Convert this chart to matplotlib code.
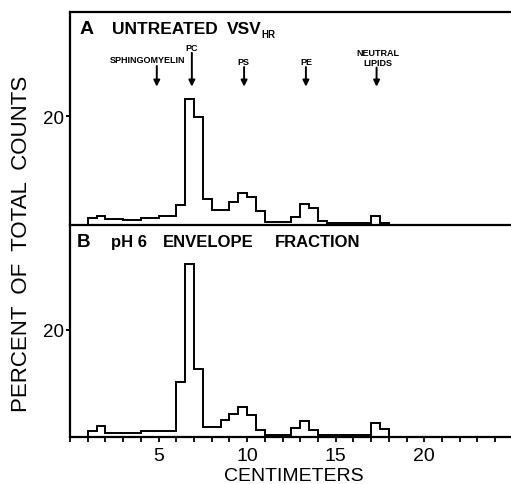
import matplotlib
matplotlib.use("Agg")
import matplotlib.pyplot as plt
from matplotlib.ticker import MultipleLocator, FixedLocator

plt.rcParams['font.family'] = ['Liberation Sans', 'DejaVu Sans']

# ---- data (percent of total counts per gel slice, x in centimeters) ----
edges_a = [1.0, 1.5, 2.0, 3.0, 4.0, 5.0, 6.0, 6.5, 7.0, 7.5, 8.0, 9.0, 9.5, 10.0,
           10.5, 11.0, 12.5, 13.0, 13.5, 14.0, 14.5, 17.0, 17.5, 18.0]
values_a = [1.2, 1.7, 1.1, 0.85, 1.2, 1.7, 3.7, 23.1, 19.8, 4.8, 2.8, 4.3, 5.8,
            5.1, 2.5, 0.6, 1.5, 3.85, 3.1, 0.7, 0.4, 1.7, 0.4]

edges_b = [1.0, 1.5, 2.0, 4.0, 6.0, 6.5, 7.0, 7.5, 8.5, 9.0, 9.5, 10.0, 10.5,
           11.0, 12.5, 13.0, 13.5, 14.0, 17.0, 17.5, 18.0]
values_b = [1.05, 2.1, 0.75, 1.1, 10.2, 32.2, 12.7, 1.9, 3.2, 4.3, 5.6, 4.15,
            1.3, 0.45, 1.6, 2.9, 1.3, 0.3, 2.55, 1.45]

lipid_labels = ["SPHINGOMYELIN", "PC", "PS", "PE", "NEUTRAL\nLIPIDS"]
lipid_pos = [4.9, 6.88, 9.83, 13.32, 17.31]
lipid_label_x = [4.38, 6.86, 9.8, 13.33, 17.4]

title_a_words = ["A", "UNTREATED", "VSV"]
title_a_sub = "HR"
title_b_words = ["B", "pH 6", "ENVELOPE", "FRACTION"]
ylabel = "PERCENT  OF  TOTAL  COUNTS"
xlabel = "CENTIMETERS"
x_major = [5, 10, 15, 20]
y_ticks = [20]

W, H = 511, 485
fig = plt.figure(figsize=(W / 100, H / 100), dpi=100)

def fx(px):
    return px / W

def fy(py):
    return 1 - py / H

left = fx(70)
ax_a = fig.add_axes([left, fy(226), 1 - left, fy(13) - fy(226)])
ax_b = fig.add_axes([left, fy(438), 1 - left, fy(226) - fy(438)])

lw_spine = 1.6
for ax in (ax_a, ax_b):
    ax.set_xlim(0, 24.9)
    ax.spines['right'].set_visible(False)
    for s in ('left', 'bottom', 'top'):
        ax.spines[s].set_linewidth(lw_spine)
    ax.yaxis.set_major_locator(FixedLocator(y_ticks))
    ax.tick_params(axis='y', direction='out', length=3, width=1.4, pad=1,
                   labelsize=13.5)
    ax.patch.set_alpha(0)

ax_b.spines['top'].set_visible(False)

ax_a.set_ylim(0, 39.1)
ax_b.set_ylim(0, 39.5)

ax_a.stairs(values_a, edges_a, baseline=0, color='black', lw=1.4)
ax_b.stairs(values_b, edges_b, baseline=0, color='black', lw=1.4)

# x axis ticks
ax_a.tick_params(axis='x', bottom=False, labelbottom=False)
ax_b.xaxis.set_major_locator(FixedLocator(x_major))
ax_b.xaxis.set_minor_locator(MultipleLocator(1))
ax_b.tick_params(axis='x', which='both', direction='out', length=3.5, width=1.3,
                 labelsize=14, pad=4)

# panel titles
for word, px, fs in zip(title_a_words, [80, 112, 227], [14, 12.5, 12.5]):
    fig.text(fx(px), fy(30), word, fontsize=fs, fontweight='bold', va='center', ha='left')
fig.text(fx(261), fy(35), title_a_sub, fontsize=7, fontweight='bold', va='center', ha='left')
for word, px, fs in zip(title_b_words, [77, 111, 163, 275], [13.5, 12, 12, 12]):
    fig.text(fx(px), fy(243), word, fontsize=fs, fontweight='bold', va='center', ha='left')

# lipid markers
label_y = [30.3, 32.5, 30.0, 30.0, 30.8]
arrow_top = [29.2, 31.6, 29.0, 29.0, 28.9]
arrow_tip = 25.4
for lab, xp, lx, ly, at in zip(lipid_labels, lipid_pos, lipid_label_x, label_y, arrow_top):
    ax_a.annotate('', xy=(xp, arrow_tip), xytext=(xp, at),
                  arrowprops=dict(arrowstyle='-|>', color='black', lw=1.4,
                                  mutation_scale=9, shrinkA=0, shrinkB=0))
    ax_a.text(lx, ly, lab, fontsize=6.5, fontweight='bold', ha='center', va='center',
              linespacing=1.1)

fig.text(fx(22), fy(244), ylabel, fontsize=16, rotation=90, ha='center', va='center')
fig.text(fx(294), fy(477), xlabel, fontsize=14, ha='center', va='center')

fig.savefig("out.png", dpi=100)
